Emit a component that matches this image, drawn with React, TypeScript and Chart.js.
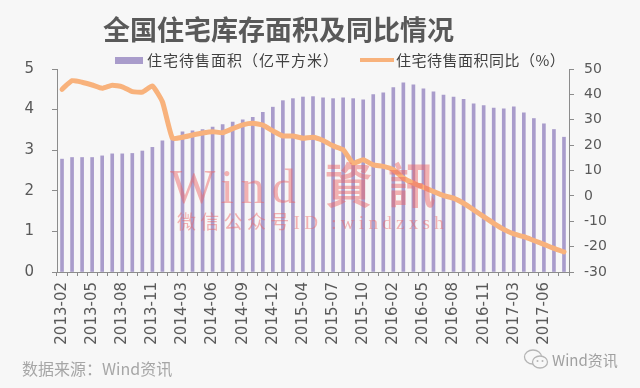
import React, { useEffect, useRef } from "react";
import { Chart, registerables } from "chart.js";

Chart.register(...registerables);

const categories = [
  "2013-02", "2013-03", "2013-04", "2013-05", "2013-06", "2013-07", "2013-08", "2013-09", "2013-10", "2013-11", "2013-12",
  "2014-02", "2014-03", "2014-04", "2014-05", "2014-06", "2014-07", "2014-08", "2014-09", "2014-10", "2014-11", "2014-12",
  "2015-02", "2015-03", "2015-04", "2015-05", "2015-06", "2015-07", "2015-08", "2015-09", "2015-10", "2015-11", "2015-12",
  "2016-02", "2016-03", "2016-04", "2016-05", "2016-06", "2016-07", "2016-08", "2016-09", "2016-10", "2016-11", "2016-12",
  "2017-02", "2017-03", "2017-04", "2017-05", "2017-06", "2017-07", "2017-08",
];

const tickLabels = [
  "2013-02", "2013-05", "2013-08", "2013-11", "2014-03", "2014-06", "2014-09", "2014-12", "2015-04",
  "2015-07", "2015-10", "2016-02", "2016-05", "2016-08", "2016-11", "2017-03", "2017-06",
];

// 住宅待售面积（亿平方米）
const inventory = [
  2.78, 2.82, 2.82, 2.82, 2.86, 2.91, 2.91, 2.92, 2.98, 3.07, 3.23,
  3.27, 3.45, 3.48, 3.51, 3.57, 3.63, 3.69, 3.75, 3.81, 3.93, 4.06,
  4.22, 4.27, 4.31, 4.32, 4.29, 4.27, 4.29, 4.27, 4.24, 4.37, 4.41,
  4.54, 4.66, 4.61, 4.51, 4.44, 4.36, 4.31, 4.25, 4.14, 4.10, 4.04,
  4.02, 4.07, 3.92, 3.78, 3.65, 3.51, 3.32,
];

// 住宅待售面积同比（%）
const yoy = [
  42.0, 45.4, 44.8, 43.7, 42.4, 43.6, 43.0, 41.1, 40.9, 43.3, 37.1,
  22.7, 23.1, 24.0, 24.8, 25.3, 24.9, 26.5, 28.0, 28.6, 27.9, 25.6,
  23.6, 23.6, 22.7, 23.1, 21.8, 19.7, 18.2, 12.9, 14.2, 12.2, 11.6,
  10.3, 7.0, 5.0, 3.4, 1.7, 0.1, -0.9, -2.9, -5.5, -8.2, -10.8,
  -13.2, -15.0, -16.1, -17.6, -19.1, -20.7, -22.1,
];

const leftTicks = { min: 0, max: 5, step: 1 };
const rightTicks = { min: -30, max: 50, step: 10 };

const PURPLE = "#a99ccb";
const ORANGE = "#f8b27c";
const AXIS = "#8c8c8c";
const TEXT = "#595959";
const BG = "#f7f7f7";
const WATERMARK = "rgba(236,100,100,0.48)";

export default function App() {
  const ref = useRef<HTMLCanvasElement>(null);

  useEffect(() => {
    const chart = new Chart(ref.current as HTMLCanvasElement, {
      type: "bar",
      data: {
        labels: categories,
        datasets: [
          {
            type: "line",
            label: "住宅待售面积同比（%）",
            data: yoy,
            yAxisID: "y1",
            borderColor: ORANGE,
            backgroundColor: ORANGE,
            borderWidth: 5,
            pointRadius: 0,
            tension: 0.15,
            borderJoinStyle: "round",
            borderCapStyle: "round",
            order: 1,
          } as any,
          {
            type: "bar",
            label: "住宅待售面积（亿平方米）",
            data: inventory,
            yAxisID: "y",
            backgroundColor: PURPLE,
            barThickness: 3,
            order: 2,
          } as any,
        ],
      },
      options: {
        responsive: false,
        animation: false,
        layout: { padding: { top: 69, left: 0, right: 0, bottom: 0 } },
        plugins: { legend: { display: false }, tooltip: { enabled: false } },
        scales: {
          x: {
            type: "category",
            offset: true,
            grid: {
              display: true,
              offset: true,
              drawOnChartArea: false,
              drawTicks: true,
              tickLength: 4,
              color: AXIS,
            },
            border: { display: true, color: AXIS },
            ticks: {
              autoSkip: false,
              minRotation: 90,
              maxRotation: 90,
              padding: 6,
              color: TEXT,
              font: { family: "DejaVu Sans", size: 15 },
              callback: (_v: any, i: number) =>
                tickLabels.includes(categories[i]) ? categories[i] : "",
            },
            afterFit: (s: any) => {
              s.height = 116;
            },
          },
          y: {
            position: "left",
            min: leftTicks.min,
            max: leftTicks.max,
            grid: { display: true, drawOnChartArea: false, drawTicks: true, tickLength: 5, color: AXIS },
            border: { display: true, color: AXIS },
            ticks: {
              stepSize: leftTicks.step,
              padding: 18,
              color: TEXT,
              font: { family: "DejaVu Sans", size: 15 },
            },
            afterFit: (s: any) => {
              s.width = 57;
            },
          },
          y1: {
            position: "right",
            min: rightTicks.min,
            max: rightTicks.max,
            grid: { display: true, drawOnChartArea: false, drawTicks: true, tickLength: 5, color: AXIS },
            border: { display: true, color: AXIS },
            ticks: {
              stepSize: rightTicks.step,
              padding: 10,
              color: TEXT,
              font: { family: "DejaVu Sans", size: 14 },
            },
            afterFit: (s: any) => {
              s.width = 71;
            },
          },
        },
      },
    });
    return () => chart.destroy();
  }, []);

  const cjk = '"Noto Sans CJK SC", "Noto Sans", sans-serif';

  return (
    <div
      style={{
        position: "fixed",
        left: 0,
        top: 0,
        width: 640,
        height: 388,
        background: BG,
        overflow: "hidden",
        fontFamily: cjk,
      }}
    >
      <canvas ref={ref} width={640} height={388} style={{ position: "absolute", left: 0, top: 0 }} />

      {/* Title */}
      <div
        style={{
          position: "absolute",
          left: 103,
          top: 14,
          fontSize: 27,
          lineHeight: "30px",
          fontWeight: 700,
          color: TEXT,
          whiteSpace: "nowrap",
        }}
      >
        全国住宅库存面积及同比情况
      </div>

      {/* Legend */}
      <div style={{ position: "absolute", left: 115, top: 57, width: 28, height: 7, background: PURPLE }} />
      <div
        style={{
          position: "absolute",
          left: 147,
          top: 50,
          fontSize: 15,
          lineHeight: "20px",
          letterSpacing: 1,
          color: "#404040",
          whiteSpace: "nowrap",
        }}
      >
        住宅待售面积（亿平方米）
      </div>
      <div style={{ position: "absolute", left: 360, top: 58, width: 34, height: 4, background: ORANGE }} />
      <div
        style={{
          position: "absolute",
          left: 396,
          top: 50,
          fontSize: 15,
          lineHeight: "20px",
          letterSpacing: 0.5,
          color: "#404040",
          whiteSpace: "nowrap",
        }}
      >
        住宅待售面积同比（%）
      </div>

      {/* Watermark */}
      <div
        style={{
          position: "absolute",
          left: 170,
          top: 155,
          fontSize: 48,
          lineHeight: "54px",
          color: WATERMARK,
          fontFamily: '"Liberation Serif", "Noto Sans CJK TC", serif',
          whiteSpace: "nowrap",
          pointerEvents: "none",
        }}
      >
        <span style={{ letterSpacing: 7 }}>Wind</span>
        <span style={{ marginLeft: 22, letterSpacing: 15, fontWeight: 700, fontFamily: '"Noto Sans CJK TC", serif' }}>資訊</span>
      </div>
      <div
        style={{
          position: "absolute",
          left: 177,
          top: 211,
          fontSize: 19,
          lineHeight: "24px",
          letterSpacing: 4.3,
          color: WATERMARK,
          fontFamily: '"Liberation Serif", "Noto Sans CJK SC", serif',
          whiteSpace: "nowrap",
          pointerEvents: "none",
        }}
      >
        微信公众号ID :windzxsh
      </div>

      {/* Source */}
      <div
        style={{
          position: "absolute",
          left: 22,
          top: 358,
          fontSize: 16,
          lineHeight: "20px",
          color: "#a6a6a6",
          whiteSpace: "nowrap",
        }}
      >
        数据来源：Wind资讯
      </div>

      {/* WeChat mark */}
      <svg style={{ position: "absolute", left: 523, top: 348 }} width={28} height={24} viewBox="0 0 28 24">
        <ellipse cx={10} cy={9} rx={8.5} ry={7} fill="none" stroke="#b5b5b5" strokeWidth={1.3} />
        <ellipse cx={17} cy={14} rx={7.5} ry={6} fill={BG} stroke="#b5b5b5" strokeWidth={1.3} />
        <circle cx={14.5} cy={13} r={1} fill="#b5b5b5" />
        <circle cx={19.5} cy={13} r={1} fill="#b5b5b5" />
      </svg>
      <div
        style={{
          position: "absolute",
          left: 552,
          top: 350,
          fontSize: 15,
          lineHeight: "20px",
          color: "#a0a0a0",
          whiteSpace: "nowrap",
        }}
      >
        Wind资讯
      </div>
    </div>
  );
}
